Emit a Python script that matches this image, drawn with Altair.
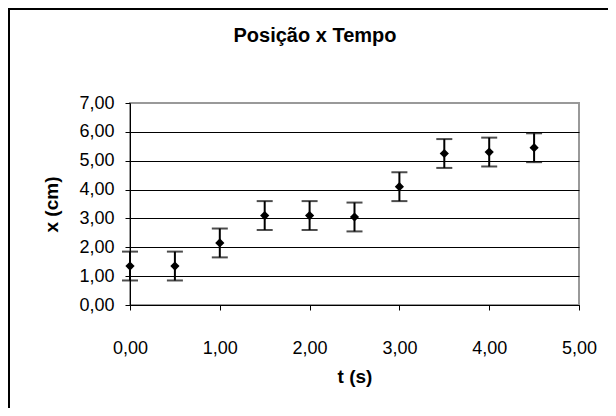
import altair as alt
import pandas as pd

# Data
t_values = [0.0, 0.5, 1.0, 1.5, 2.0, 2.5, 3.0, 3.5, 4.0, 4.5]
x_values = [1.35, 1.35, 2.15, 3.10, 3.10, 3.05, 4.10, 5.25, 5.30, 5.45]
x_errors = [0.5, 0.5, 0.5, 0.5, 0.5, 0.5, 0.5, 0.5, 0.5, 0.5]
x_ticks = [0, 1, 2, 3, 4, 5]
y_ticks = [0, 1, 2, 3, 4, 5, 6, 7]
chart_title = "Posição x Tempo"

df = pd.DataFrame({
    "t": t_values,
    "x": x_values,
    "lo": [v - e for v, e in zip(x_values, x_errors)],
    "hi": [v + e for v, e in zip(x_values, x_errors)],
})

FONT = "Liberation Sans"
label_expr = "replace(format(datum.value, '.2f'), '.', ',')"

x_axis = alt.Axis(
    values=x_ticks, title="t (s)", grid=False, labelExpr=label_expr,
    labelPadding=29, titlePadding=10, labelOverlap=False, labelFlush=False,
)
x_scale = alt.Scale(domain=[0, 5], nice=False, zero=False)
y_axis = alt.Axis(
    values=y_ticks, title="x (cm)", grid=True, labelExpr=label_expr,
    labelPadding=11, titlePadding=17, labelOverlap=False, labelFlush=False,
    gridColor={"condition": {"test": "datum.value == 7", "value": "#999999"}, "value": "black"},
)
y_scale = alt.Scale(domain=[0, 7], nice=False)


def X(field):
    return alt.X(field, type="quantitative", scale=x_scale, axis=x_axis)


def Y(field):
    return alt.Y(field, type="quantitative", scale=y_scale, axis=y_axis)


base = alt.Chart(df)

bars = base.mark_rule(color="black", strokeWidth=2).encode(
    x=X("t"), y=Y("lo"), y2="hi:Q",
)
caps_lo = base.mark_tick(color="black", orient="horizontal", size=16, thickness=2).encode(
    x=X("t"), y=Y("lo")
)
caps_hi = base.mark_tick(color="black", orient="horizontal", size=16, thickness=2).encode(
    x=X("t"), y=Y("hi")
)
points = base.mark_point(shape="diamond", filled=True, color="black", size=85, opacity=1).encode(
    x=X("t"), y=Y("x")
)

one = pd.DataFrame({"label": [chart_title]})
border = alt.Chart(one).mark_rect(
    fillOpacity=0, stroke="black", strokeWidth=2, clip=False
).encode(
    x=alt.value(-121), x2=alt.value(1000), y=alt.value(-94), y2=alt.value(1000)
)
title = alt.Chart(one).mark_text(
    font=FONT, fontSize=20, fontWeight="bold", color="black",
    align="center", baseline="alphabetic", clip=False,
).encode(
    text="label:N", x=alt.value(185), y=alt.value(-61)
)

chart = alt.layer(bars, caps_lo, caps_hi, points, border, title).properties(
    width=449,
    height=202,
    autosize=alt.AutoSizeParams(type="none"),
    padding={"left": 122, "top": 95, "right": 29, "bottom": 103},
).configure_view(
    stroke="#999999", strokeWidth=2
).configure_axis(
    domainColor="black", domainWidth=1, tickColor="black", tickSize=5,
    labelFont=FONT, labelFontSize=18, labelColor="black",
    titleFont=FONT, titleFontSize=19, titleFontWeight="bold", titleColor="black",
    gridWidth=1,
)

chart.save("out.html", embed_options={"renderer": "svg", "actions": False})
